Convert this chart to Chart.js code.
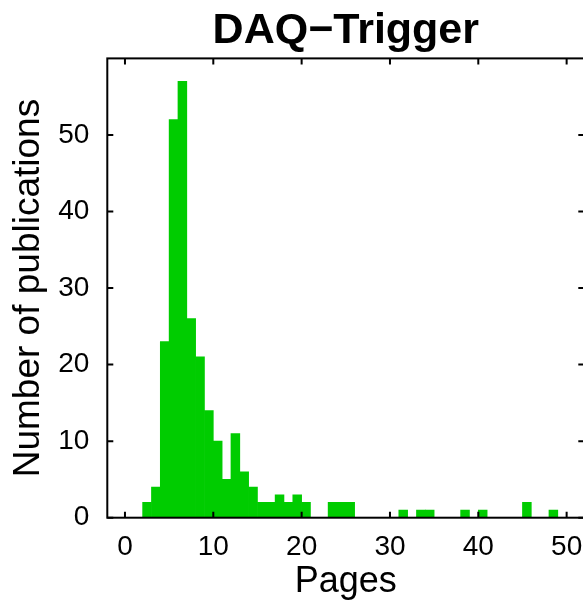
<!DOCTYPE html>
<html>
<head>
<meta charset="utf-8">
<script src="https://cdn.jsdelivr.net/npm/chart.js@4.4.1/dist/chart.umd.min.js"></script>
<style>
  html, body { margin: 0; padding: 0; background: #fff; overflow: hidden; }
  #wrap { width: 590px; height: 610px; }
</style>
</head>
<body>
<div id="wrap"><canvas id="histChart" width="590" height="610"></canvas></div>
<script>
// histogram bins: lower edge of each 1-page bin and number of publications in it
const binStart = [0, 1, 2, 3, 4, 5, 6, 7, 8, 9, 10, 11, 12, 13, 14, 15, 16, 17, 18, 19,
  20, 21, 22, 23, 24, 25, 26, 27, 28, 29, 30, 31, 32, 33, 34, 35, 36, 37, 38, 39,
  40, 41, 42, 43, 44, 45, 46, 47, 48, 49, 50, 51];
const counts = [0, 0, 2, 4, 23, 52, 57, 26, 21, 14, 10, 5, 11, 6, 4, 2, 2, 3, 2, 3,
  2, 0, 0, 2, 2, 2, 0, 0, 0, 0, 0, 1, 0, 1, 1, 0, 0, 0, 1, 0,
  1, 0, 0, 0, 0, 2, 0, 0, 1, 0, 0, 0];
const xTicks = [0, 10, 20, 30, 40, 50];
const yTicks = [0, 10, 20, 30, 40, 50];

const FONT = "'Liberation Sans', Arial, Helvetica, sans-serif";
const ctx = document.getElementById('histChart');

// frame round the plot with inward tick marks on all four sides
const framePlugin = {
  id: 'frame',
  afterDatasetsDraw(chart) {
    const { ctx, chartArea: { left, right, top, bottom }, scales: { x, y } } = chart;
    ctx.save();
    ctx.strokeStyle = '#000';
    ctx.lineWidth = 2;
    ctx.strokeRect(left, top, right - left, bottom - top);
    const len = 6;
    ctx.beginPath();
    x.ticks.forEach(t => {
      const px = x.getPixelForValue(t.value);
      ctx.moveTo(px, bottom); ctx.lineTo(px, bottom - len);
      ctx.moveTo(px, top); ctx.lineTo(px, top + len);
    });
    y.ticks.forEach(t => {
      const py = y.getPixelForValue(t.value);
      ctx.moveTo(left, py); ctx.lineTo(left + len, py);
      ctx.moveTo(right, py); ctx.lineTo(right - len, py);
    });
    ctx.stroke();
    ctx.restore();
  }
};

new Chart(ctx, {
  type: 'bar',
  data: {
    datasets: [{
      data: binStart.map((b, i) => ({ x: b + 0.5, y: counts[i] })),
      backgroundColor: 'rgb(0, 204, 0)',
      borderWidth: 0,
      barPercentage: 1,
      categoryPercentage: 1,
    }]
  },
  options: {
    responsive: false,
    animation: false,
    layout: { padding: { left: 0, right: 5.7, top: 0, bottom: 0 } },
    plugins: {
      legend: { display: false },
      tooltip: { enabled: false },
      title: {
        display: true,
        text: 'DAQ\u2212Trigger',
        color: '#000',
        fullSize: false,
        font: { family: FONT, size: 43, weight: 'bold' },
        padding: { top: 5, bottom: 1.8 }
      }
    },
    scales: {
      x: {
        type: 'linear',
        offset: false,
        min: -2,
        max: 52,
        afterFit: (s) => { s.height = 92.3; },
        grid: { display: false },
        border: { display: false },
        afterBuildTicks: (s) => { s.ticks = xTicks.map(v => ({ value: v })); },
        ticks: {
          color: '#000',
          padding: 5,
          maxRotation: 0,
          font: { family: FONT, size: 28 }
        },
        title: {
          display: true,
          text: 'Pages',
          color: '#000',
          font: { family: FONT, size: 36 },
          padding: { top: 0, bottom: 6 }
        }
      },
      y: {
        min: 0,
        max: 60,
        afterFit: (s) => { s.width = 107.3; },
        grid: { display: false },
        border: { display: false },
        afterBuildTicks: (s) => { s.ticks = yTicks.map(v => ({ value: v })); },
        ticks: {
          color: '#000',
          padding: 10,
          font: { family: FONT, size: 28 }
        },
        title: {
          display: true,
          text: 'Number of publications',
          color: '#000',
          font: { family: FONT, size: 37 },
          padding: { top: 7, bottom: 0 }
        }
      }
    }
  },
  plugins: [framePlugin]
});
</script>
</body>
</html>
